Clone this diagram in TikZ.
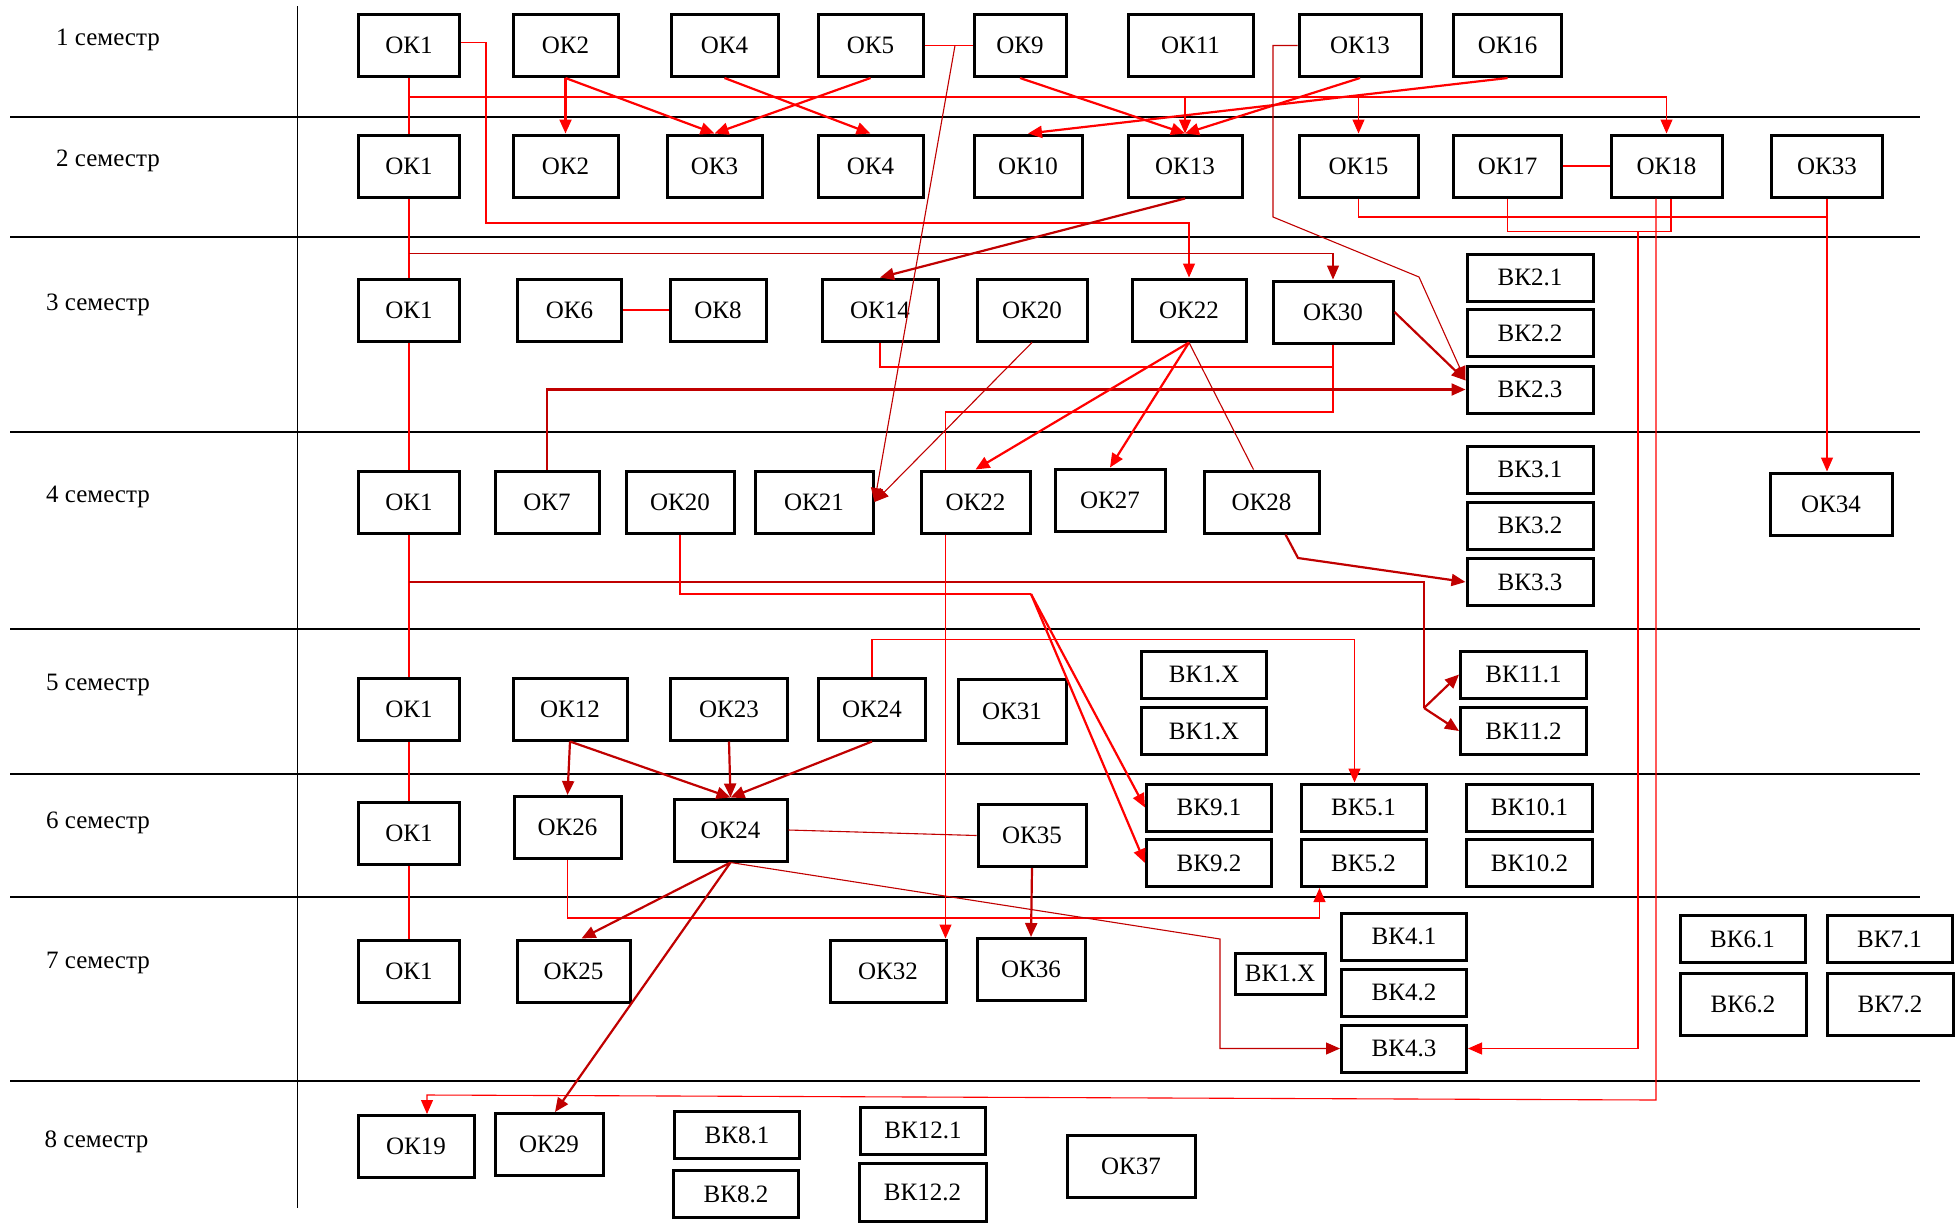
\documentclass[tikz,border=0pt]{standalone}
\usepackage{fontspec}
\setmainfont{Liberation Serif}
\usetikzlibrary{arrows.meta}
\definecolor{lnred}{RGB}{255,0,0}
\definecolor{lndark}{RGB}{192,0,0}
\tikzset{
  box/.style={draw, line width=3pt, inner sep=0pt, minimum height=62pt, font=\fontsize{25}{28}\selectfont},
  vbox/.style={box, minimum height=47pt},
  sem/.style={font=\fontsize{25}{28}\selectfont},
  sep/.style={line width=1.8pt},
  link/.style={draw=lnred, line width=1.1pt},
  dlink/.style={draw=lndark, line width=1.1pt},
  heavy/.style={line width=2.2pt},
  arrowed/.style={-{Triangle[length=14pt,width=12pt]}}
}
\begin{document}
\begin{tikzpicture}[x=1pt,y=-1pt]
\useasboundingbox (0,0) rectangle (1959,1224);

\draw[sep] (297.5,6) -- (297.5,1208);
\foreach \y in {117,237,432,629,774,897,1081} {
  \draw[sep] (10,\y) -- (1920,\y);
}
\foreach \x/\y/\s in {108/40/1,108/161/2,98/305/3,98/497/4,98/685/5,98/823/6,98/963/7,96.5/1142/8} {
  \node[sem] (sem\s) at (\x,\y) {\s~семестр};
}

\foreach \n/\x/\w/\t in {ok1a/409/101/ОК1,ok2a/565.5/105/ОК2,ok4a/724.5/107/ОК4,ok5a/870.5/105/ОК5,ok9a/1020/92/ОК9,ok11a/1190.5/125/ОК11,ok13a/1360/122/ОК13,ok16a/1507.6/108/ОК16} {
  \node[box, minimum width=\w pt] (\n) at (\x,45.5) {\t};
}
\foreach \n/\x/\w/\t in {ok1b/409/101/ОК1,ok2b/565.5/105/ОК2,ok3b/714.5/95/ОК3,ok4b/870.5/105/ОК4,ok10b/1028/108/ОК10,ok13b/1185/114/ОК13,ok15b/1358.5/119/ОК15,ok17b/1507.6/108/ОК17,ok18b/1666.5/111/ОК18,ok33b/1827/111/ОК33} {
  \node[box, minimum width=\w pt] (\n) at (\x,166) {\t};
}
\foreach \n/\x/\w/\t in {ok1c/409/101/ОК1,ok6c/569.5/104/ОК6,ok8c/718/96/ОК8,ok14c/880/116/ОК14,ok20c/1032/110/ОК20,ok22c/1189/114/ОК22} {
  \node[box, minimum width=\w pt] (\n) at (\x,310) {\t};
}
\node[box, minimum width=120pt] (ok30c) at (1333,312) {ОК30};
\foreach \n/\x/\w/\t in {ok1d/409/101/ОК1,ok7d/547/104/ОК7,ok20d/680/108/ОК20,ok21d/814/118/ОК21,ok22d/975.5/109/ОК22,ok28d/1261.5/115/ОК28} {
  \node[box, minimum width=\w pt] (\n) at (\x,502) {\t};
}
\node[box, minimum width=110pt] (ok27d) at (1110,500) {ОК27};
\node[box, minimum width=122pt] (ok34d) at (1831,504) {ОК34};
\foreach \n/\x/\w/\t in {ok1e/409/101/ОК1,ok12e/570/114/ОК12,ok23e/729/117/ОК23,ok24e/872/107/ОК24} {
  \node[box, minimum width=\w pt] (\n) at (\x,709) {\t};
}
\node[box, minimum width=108pt, minimum height=64pt] (ok31e) at (1012,711) {ОК31};
\node[box, minimum width=101pt] (ok1f) at (409,833.5) {ОК1};
\node[box, minimum width=107pt] (ok26f) at (567.5,827.5) {ОК26};
\node[box, minimum width=113pt] (ok24f) at (730.5,830) {ОК24};
\node[box, minimum width=108pt] (ok35f) at (1032,835.5) {ОК35};
\foreach \n/\x/\w/\t in {ok1g/409/101/ОК1,ok25g/573.5/113/ОК25,ok32g/888/116/ОК32} {
  \node[box, minimum width=\w pt] (\n) at (\x,971) {\t};
}
\node[box, minimum width=108pt] (ok36g) at (1031,969.5) {ОК36};
\node[box, minimum width=116pt] (ok19h) at (416,1146.5) {ОК19};
\node[box, minimum width=108pt] (ok29h) at (549,1144.5) {ОК29};
\node[box, minimum width=128pt] (ok37h) at (1131,1166) {ОК37};

\foreach \n/\x/\y/\t in {bk21/1530/277.5/ВК2.1,bk22/1530/333/ВК2.2,bk23/1530/389.5/ВК2.3,bk31/1530/469.5/ВК3.1,bk32/1530/525.5/ВК3.2,bk33/1530/582/ВК3.3,bk111/1523.5/674.5/ВК11.1,bk112/1523.5/731/ВК11.2,bk101/1529.5/807.5/ВК10.1,bk102/1529.5/863/ВК10.2} {
  \node[vbox, minimum width=126pt] (\n) at (\x,\y) {\t};
}
\foreach \n/\x/\y/\t in {bk1xa/1204/674.5/ВК1.X,bk1xb/1204/731/ВК1.X,bk91/1209/807.5/ВК9.1,bk92/1209/863/ВК9.2,bk51/1363.5/807.5/ВК5.1,bk52/1363.5/863/ВК5.2,bk41/1404/936.5/ВК4.1,bk42/1404/992.5/ВК4.2,bk43/1404/1048.5/ВК4.3,bk81/737/1135/ВК8.1,bk82/736/1194/ВК8.2,bk121/923/1130.5/ВК12.1} {
  \node[vbox, minimum width=125pt] (\n) at (\x,\y) {\t};
}
\node[vbox, minimum width=90pt, minimum height=41pt] (bk1xg) at (1280,973.5) {ВК1.X};
\node[vbox, minimum width=127pt, minimum height=58pt] (bk122) at (922.5,1192) {ВК12.2};
\node[vbox, minimum width=125pt] (bk61) at (1742.5,939) {ВК6.1};
\node[vbox, minimum width=125pt] (bk71) at (1889.5,939) {ВК7.1};
\node[vbox, minimum width=126pt, minimum height=62pt] (bk62) at (1743,1004) {ВК6.2};
\node[vbox, minimum width=126pt, minimum height=62pt] (bk72) at (1890,1004) {ВК7.2};

\foreach \a/\b in {ok1a/ok1b,ok1b/ok1c,ok1c/ok1d,ok1d/ok1e,ok1e/ok1f,ok1f/ok1g} {
  \draw[link] (\a.south) -- (\b.north);
}
\coordinate (sp1) at (409,97);
\coordinate (sp3) at (409,253.5);
\coordinate (sp4) at (409,582);
\draw[link] (sp1) -- (ok18b.north |- sp1);
\foreach \b in {ok13b,ok15b,ok18b} {
  \draw[link,arrowed] (\b.north |- sp1) -- (\b.north);
}
\draw[link,arrowed] ([yshift=3pt]ok1a.east) -| (486,223) -| (ok22c.north);
\draw[link,heavy,arrowed] (ok2a.south) -- (ok2b.north);
\draw[link,heavy,arrowed] (ok2a.south) -- (ok3b.north);
\draw[link,heavy,arrowed] (ok4a.south) -- (ok4b.north);
\draw[link,heavy,arrowed] (ok5a.south) -- (ok3b.north);
\draw[link] (ok5a.east) -- (ok9a.west);
\coordinate (j5) at (955,45.5);
\draw[dlink,arrowed] (j5) -- (ok21d.east);
\draw[link,heavy,arrowed] (ok9a.south) -- (ok13b.north);
\draw[link,heavy,arrowed] (ok13a.south) -- (ok13b.north);
\draw[link,heavy,arrowed] (ok16a.south) -- (ok10b.north);
\draw[dlink,arrowed] (ok13a.west) -| (1273,217) -- (1419,277) -- ([yshift=9pt]bk23.west);
\draw[link] (ok17b.east) -- (ok18b.west);
\coordinate (j33) at (1827,217);
\draw[link] (ok15b.south) |- (j33);
\draw[link,arrowed] (ok33b.south) -- (ok33b.south |- ok34d.north);
\draw[link] (ok17b.south) -- ++(0,33) -| ([xshift=4.5pt]ok18b.south);
\coordinate (j18) at (1638,231);
\draw[link,arrowed] (j18) |- (bk43.east);
\draw[link,arrowed] ([xshift=-10.5pt]ok18b.south) -- (1656,1100) -- (427,1095) -- ([xshift=11pt]ok19h.north);

\draw[dlink,heavy,arrowed] (ok13b.south) -- (ok14c.north);
\draw[dlink,arrowed] (sp3) -| (ok30c.north);
\draw[link] (ok6c.east) -- (ok8c.west);
\coordinate (j30) at (1333,367);
\draw[link] (ok14c.south) |- (j30);
\draw[link] (ok30c.south) -- (1333,412) -| ([xshift=-30pt]ok22d.north);
\draw[dlink,heavy,arrowed] (ok30c.east) -- ([yshift=9pt]bk23.west);
\draw[dlink,heavy,arrowed] (ok7d.north) |- (bk23.west);
\draw[dlink,arrowed] (ok20c.south) -- (ok21d.east);
\draw[link,heavy,arrowed] (ok22c.south) -- (ok22d.north);
\draw[link,heavy,arrowed] (ok22c.south) -- (ok27d.north);
\draw[dlink] (ok22c.south) -- ([xshift=-8pt]ok28d.north);

\draw[dlink,heavy,arrowed] ([xshift=24pt]ok28d.south) -- (1298,558) -- (bk33.west);
\draw[dlink] (sp4) -| (1424,708) coordinate (j11);
\draw[dlink,heavy,arrowed] (j11) -- (bk111.west);
\draw[dlink,heavy,arrowed] (j11) -- (bk112.west);
\draw[link] (ok20d.south) |- (1031,594) coordinate (j9);
\draw[link,heavy,arrowed] (j9) -- (bk91.west);
\draw[link,heavy,arrowed] (j9) -- (bk92.west);
\draw[link,arrowed] ([xshift=-30pt]ok22d.south) -- ([xshift=-30pt]ok22d.south |- ok32g.north);

\draw[link,arrowed] (ok24e.north) -- ++(0,-37) -| ([xshift=-9pt]bk51.north);
\foreach \a in {ok12e,ok23e,ok24e} {
  \draw[dlink,heavy,arrowed] (\a.south) -- (ok24f.north);
}
\draw[dlink,heavy,arrowed] (ok12e.south) -- (ok26f.north);

\draw[dlink] (ok24f.east) -- (ok35f.west);
\draw[dlink,heavy,arrowed] (ok35f.south) -- (ok36g.north);
\draw[link,arrowed] (ok26f.south) -- ++(0,58) -| ([xshift=-44pt]bk52.south);
\draw[dlink,heavy,arrowed] (ok24f.south) -- ([xshift=8pt]ok25g.north);
\draw[dlink,heavy,arrowed] (ok24f.south) -- ([xshift=6pt]ok29h.north);
\draw[dlink,arrowed] (ok24f.south) -- (1220,939) |- (bk43.west);
\end{tikzpicture}
\end{document}
